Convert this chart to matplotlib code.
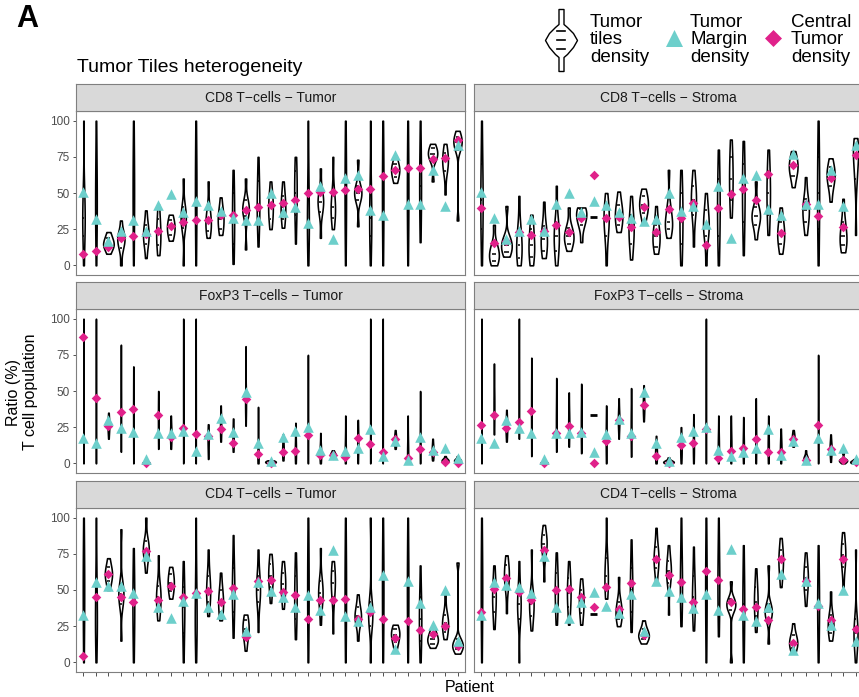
import numpy as np
import matplotlib
matplotlib.use("Agg")
import matplotlib.pyplot as plt
from matplotlib import cbook

plt.rcParams['font.family'] = ['Liberation Sans', 'DejaVu Sans']

"""Data read from the figure: per patient (min, q1, median, q3, max) of tile ratios,
plus the tumor-margin and central-tumor densities"""

patients = np.arange(1, 32)

cd8_tumor_violin = [(0, 20, 33, 50, 100), (0, 25, 45, 70, 100), (8, 12, 15, 19, 23), (0, 12, 18, 22, 31),
                    (0, 25, 50, 75, 100), (5, 15, 21, 28, 38), (7, 14, 22, 32, 42), (17, 21, 26, 31, 35),
                    (0, 26, 33, 40, 60), (0, 25, 50, 75, 100), (19, 24, 30, 38, 58), (21, 25, 32, 38, 47),
                    (1, 15, 33, 50, 66), (11, 34, 39, 45, 60), (13, 30, 42, 58, 75), (25, 32, 40, 48, 58),
                    (26, 32, 40, 48, 58), (15, 35, 50, 65, 75), (0, 20, 33, 60, 100), (19, 37, 44, 50, 67),
                    (25, 33, 40, 50, 75), (0, 25, 50, 75, 100), (27, 45, 50, 55, 73), (0, 20, 33, 55, 100),
                    (0, 25, 50, 75, 100), (57, 61, 66, 70, 76), (0, 25, 50, 75, 100), (16, 35, 55, 75, 100),
                    (58, 73, 77, 81, 84), (49, 65, 72, 78, 84), (31, 80, 85, 89, 93)]
cd8_tumor_margin = [50.5, 32, 17, 24, 31.5, 24, 42, 49.5, 37, 44.5, 41.5, 37.5, 33, 31, 31.5, 50,
                    37, 40.5, 29, 55, 18.5, 60.5, 62.5, 38.5, 35, 76.5, 42.5, 42.5, 66, 41, 83]
cd8_tumor_central = [8, 10, 13, 19, 20, 21.5, 23.5, 27.5, 30, 31, 31.5, 35, 34.5, 38.5, 40, 42,
                     43, 45, 50, 50.5, 51, 52, 52.5, 52.5, 62, 66, 67.5, 67.5, 73.5, 74.5, 86.5]

cd8_stroma_violin = [(0, 25, 45, 70, 100), (0, 3, 8, 14, 28), (6, 9, 14, 19, 41), (0, 5, 14, 25, 48),
                     (0, 6, 14, 25, 35), (5, 10, 18, 27, 44), (0, 10, 20, 30, 55), (10, 15, 20, 26, 40),
                     (16, 28, 34, 39, 40), (33.3, 33.3, 33.3, 33.3, 33.3), (0, 20, 32, 40, 50),
                     (23, 28, 35, 42, 51), (4, 15, 25, 35, 48), (30, 36, 42, 48, 53), (8, 13, 20, 28, 41),
                     (19, 25, 30, 40, 66), (0, 15, 33, 50, 66), (13, 35, 45, 55, 66), (0, 20, 28, 38, 50),
                     (0, 20, 40, 60, 80), (33, 45, 60, 75, 87), (7, 30, 50, 70, 86), (18, 28, 34, 40, 58),
                     (21, 35, 50, 65, 80), (8, 15, 22, 30, 40), (54, 62, 68, 74, 79), (21, 30, 38, 46, 61),
                     (0, 25, 50, 75, 100), (44, 55, 62, 68, 74), (9, 14, 20, 30, 46), (21, 60, 76, 82, 88)]
cd8_stroma_margin = [50.8, 32.6, 18, 23.8, 32.3, 23.8, 42.3, 49.7, 37, 44.6, 41.8, 37, 33, 30.7, 31.9, 50,
                     37.6, 40.9, 28.4, 55, 19, 60.3, 62.4, 38.6, 34.9, 77, 42.7, 42.3, 65.8, 41, 83]
cd8_stroma_central = [39.5, 15.5, 17, 23, 21, 23.8, 27.7, 23.3, 32.8, 62.4, 32.6, 33.5, 26.8, 40.4, 23.3, 38.6,
                      32.6, 43.4, 13.9, 39.5, 49, 52.7, 45, 63, 22, 69.3, 42.3, 34, 60.7, 26.6, 76.4]

foxp3_tumor_violin = [(0, 10, 33, 60, 100), (0, 10, 33, 60, 100), (17, 22, 26, 30, 35), (8, 25, 40, 55, 82),
                      (0, 20, 35, 50, 67), (0, 0, 0, 0, 0), (10, 20, 30, 40, 50), (10, 15, 20, 25, 33),
                      (0, 25, 50, 75, 100), (0, 10, 33, 60, 100), (3, 10, 17, 22, 27), (15, 20, 25, 32, 40),
                      (8, 12, 17, 24, 31), (26, 35, 42, 50, 81), (0, 2, 6, 15, 39), (0, 0.5, 1, 1.5, 2),
                      (2, 5, 9, 14, 20), (0, 4, 9, 17, 28), (0, 10, 25, 40, 75), (0, 3, 7, 12, 21),
                      (4, 5, 6, 7.5, 9), (0, 3, 8, 17, 33), (0, 8, 15, 22, 30), (0, 10, 33, 60, 100),
                      (0, 20, 45, 70, 100), (10, 13, 16, 19, 23), (0, 3, 8, 17, 33), (0, 8, 17, 30, 50),
                      (2, 5, 8, 12, 17), (0, 1, 2, 3, 5), (0, 1, 2, 3, 5)]
foxp3_tumor_margin = [17.3, 13.8, 30, 24.7, 21.4, 3, 21, 21, 22.6, 8.8, 20.3, 31, 21.4, 49.3, 13.8, 1.6,
                      18.4, 22.6, 24.9, 9.5, 5.5, 8.3, 10.4, 23.8, 5.3, 15.5, 2.3, 18, 9.2, 10.4, 3.5]
foxp3_tumor_central = [87.6, 45, 26, 35.7, 37.3, 0.5, 33.6, 18.4, 24.2, 20.3, 19, 23.5, 14.3, 44.7, 6.3, 0.5,
                       8, 8.5, 19.6, 6, 6, 4.1, 17.2, 13.4, 7.5, 17, 4, 9.8, 7.6, 0.7, 0.5]

foxp3_stroma_violin = [(0, 10, 33, 60, 100), (20, 30, 40, 50, 69), (15, 20, 25, 30, 37), (17, 30, 45, 65, 100),
                       (5, 20, 35, 50, 73), (0, 0, 0, 0, 0), (8, 18, 28, 40, 59), (11.5, 20, 27, 35, 49),
                       (7, 17, 27, 38, 55), (33.3, 33.3, 33.3, 33.3, 33.3), (0, 8, 17, 27, 40),
                       (17, 25, 30, 36, 45), (4.6, 15, 25, 35, 52), (29, 35, 40, 46, 54), (0, 3, 7, 12, 19),
                       (0, 0.5, 1, 2, 4), (0, 5, 10, 17, 25), (0, 6, 13, 22, 34), (0, 20, 40, 60, 100),
                       (0, 5, 12, 20, 33), (0, 5, 12, 20, 33), (0, 5, 12, 20, 32), (0, 8, 17, 28, 45),
                       (0, 5, 12, 20, 33), (0, 5, 10, 16, 24), (11.5, 14, 17, 20, 23), (0, 1.5, 3, 5, 9),
                       (0, 12, 25, 45, 75), (1, 6, 10, 14, 20), (0, 1, 2, 3, 7), (0, 0.5, 1, 2, 3)]
foxp3_stroma_margin = [17.3, 13.8, 30, 24.2, 21.2, 3, 21.2, 20.7, 21.9, 8, 20.3, 30.6, 21.2, 49, 13.8, 1.8,
                       18.4, 22.6, 24.9, 9.2, 5, 8, 10.4, 23.7, 5.8, 15.7, 2.3, 17.7, 9.2, 10.4, 3]
foxp3_stroma_central = [26.3, 33.4, 24.2, 28.8, 36.4, 0.5, 20.7, 25.8, 21, 0, 15.4, 30, 19, 40.3, 5.3, 0.5,
                        12.7, 14.3, 23.5, 3.5, 8.8, 10.4, 16.8, 7.6, 7.6, 16.8, 2, 26.5, 9.7, 2.3, 1]

cd4_tumor_violin = [(0, 25, 50, 75, 100), (0, 20, 33, 60, 100), (50, 56, 61, 66, 72), (15, 40, 47, 54, 92),
                    (0, 20, 40, 60, 79), (62, 72, 78, 84, 100), (29, 37, 45, 53, 74), (44, 49, 55, 61, 66),
                    (0, 20, 38, 52, 70), (0, 20, 33, 60, 100), (32, 42, 50, 60, 78), (29, 35, 42, 50, 62),
                    (17, 35, 50, 65, 88), (8, 17, 23, 29, 33), (21, 42, 50, 60, 78), (41, 52, 60, 68, 75),
                    (37, 46, 54, 62, 70), (16, 30, 45, 60, 76), (0, 25, 50, 75, 100), (26, 40, 48, 56, 79),
                    (20, 45, 55, 63, 70), (0, 25, 50, 75, 100), (15, 27, 32, 38, 47), (0, 25, 33, 42, 100),
                    (0, 25, 50, 75, 100), (9, 14, 19, 23, 26), (0, 25, 50, 75, 100), (0, 15, 30, 45, 67),
                    (10, 13, 16, 20, 24), (16, 21, 27, 33, 48), (6, 9, 12, 16, 69)]
cd4_tumor_margin = [32.4, 55.2, 53, 52.9, 47.8, 73.6, 38, 30.6, 42.5, 47.8, 38.2, 33.3, 47.1, 21.4, 55.4, 49,
                    45, 38, 46.7, 36.5, 77.7, 32.3, 28.3, 38.4, 60.5, 9, 55.9, 41, 25.5, 49.8, 14.5]
cd4_tumor_central = [4.1, 45.5, 61, 45.5, 42, 77, 42.8, 53, 45.5, 47.8, 49, 42, 51.3, 17.5, 56, 57,
                     48.5, 46.7, 30, 43.2, 43.2, 43.7, 29.9, 34.6, 30, 16.8, 28.3, 22.5, 19.5, 25.3, 11.5]

cd4_stroma_violin = [(0, 25, 50, 75, 100), (23, 35, 45, 55, 67), (34, 52, 60, 67, 74), (0, 30, 40, 50, 70),
                     (22, 32, 40, 48, 78), (56, 75, 82, 88, 95), (26, 38, 50, 62, 76), (26, 38, 48, 58, 70),
                     (26, 34, 42, 50, 58), (33.3, 33.3, 33.3, 33.3, 33.3), (44, 50, 60, 72, 100),
                     (25, 30, 35, 42, 59), (21, 35, 50, 65, 85), (13, 16, 19, 23, 29), (56, 65, 72, 80, 93),
                     (33, 55, 63, 70, 81), (25, 40, 55, 75, 100), (22, 35, 45, 60, 80), (0, 25, 50, 75, 100),
                     (18, 35, 55, 75, 100), (0, 36, 40, 44, 56), (0, 20, 40, 60, 81), (21, 32, 42, 52, 65),
                     (13, 30, 35, 40, 67), (52, 62, 70, 78, 86), (6, 10, 14, 19, 27), (39, 50, 58, 66, 76),
                     (0, 20, 40, 60, 81), (15, 20, 26, 33, 49), (51, 66, 74, 82, 90), (0, 12, 20, 30, 78)]
cd4_stroma_margin = [32.9, 55.4, 53.6, 52.4, 47.8, 73.6, 38.2, 30.6, 42, 48.5, 38.6, 34, 47.1, 21.4, 55.9, 49.4,
                     45, 37.5, 47.1, 36.3, 78.4, 32.4, 28.3, 38.2, 60.9, 8.7, 56.3, 41, 26, 49.7, 14.5]
cd4_stroma_central = [34.5, 50.8, 58.2, 48.5, 42.8, 77.5, 50, 50.8, 45.5, 37.9, 52.4, 37, 54.7, 18.6, 71.3, 60.5,
                      55.2, 42, 62.8, 56.8, 41.4, 36.8, 37.9, 29, 71.3, 13.3, 55.9, 38.6, 29, 71.3, 23]

panel_titles = ["CD8 T\u2212cells \u2212 Tumor", "CD8 T\u2212cells \u2212 Stroma",
                "FoxP3 T\u2212cells \u2212 Tumor", "FoxP3 T\u2212cells \u2212 Stroma",
                "CD4 T\u2212cells \u2212 Tumor", "CD4 T\u2212cells \u2212 Stroma"]

TEAL = '#6DCFCB'
MAGENTA = '#E0218A'
BORDER = '#7F7F7F'


def kde(X, coords):
    X = np.asarray(X, float)
    q1, q3 = np.percentile(X, [25, 75])
    h = max(0.45 * (q3 - q1), 0.8)
    z = (coords[:, None] - X[None, :]) / h
    return np.exp(-0.5 * z ** 2).sum(axis=1) / (len(X) * h * np.sqrt(2 * np.pi))


def draw_panel(ax, summary, margin, central):
    pos_v, samples, flat = [], [], []
    for p, (lo, q1, med, q3, hi) in zip(patients, summary):
        if hi - lo < 0.5:
            flat.append((p, med))
        else:
            pos_v.append(p)
            samples.append([lo, q1, q1, med, med, med, q3, q3, hi])
    stats = cbook.violin_stats(samples, kde, points=200)
    peaks = np.array([s['vals'].max() for s in stats])
    widths = 0.85 * peaks / peaks.max()
    parts = ax.violin(stats, positions=pos_v, widths=widths,
                      showmeans=False, showextrema=False, showmedians=False)
    for body in parts['bodies']:
        body.set_facecolor('white')
        body.set_edgecolor('black')
        body.set_linewidth(1.15)
        body.set_alpha(1)
        body.set_zorder(2)
    # quantile dashes inside the violins
    for p, s, w, smp in zip(pos_v, stats, widths, samples):
        for q in (smp[1], smp[4], smp[6]):
            half = 0.5 * w * np.interp(q, s['coords'], s['vals']) / s['vals'].max()
            ax.hlines(q, p - 0.5 * half, p + 0.5 * half, color='black', lw=1.1, zorder=2.5)
    for p, v in flat:
        ax.hlines(v, p - 0.3, p + 0.3, color='black', lw=2, zorder=2)
    ax.scatter(patients, central, marker='D', s=24, color=MAGENTA, linewidths=0, zorder=3)
    ax.scatter(patients, margin, marker='^', s=58, color=TEAL, linewidths=0, zorder=4)


fig = plt.figure(figsize=(8.59, 6.97), dpi=100)
W, H = 859.0, 697.0

col_left = [76, 474]
panel_w = 389
row_top = [111, 309, 508]
panel_h = 164
strip_h = 27

data = [(cd8_tumor_violin, cd8_tumor_margin, cd8_tumor_central),
        (cd8_stroma_violin, cd8_stroma_margin, cd8_stroma_central),
        (foxp3_tumor_violin, foxp3_tumor_margin, foxp3_tumor_central),
        (foxp3_stroma_violin, foxp3_stroma_margin, foxp3_stroma_central),
        (cd4_tumor_violin, cd4_tumor_margin, cd4_tumor_central),
        (cd4_stroma_violin, cd4_stroma_margin, cd4_stroma_central)]

for k, (summary, margin, central) in enumerate(data):
    r, c = divmod(k, 2)
    x0 = col_left[c]
    y0 = row_top[r]
    ax = fig.add_axes([x0 / W, 1 - (y0 + panel_h) / H, panel_w / W, panel_h / H])
    draw_panel(ax, summary, margin, central)
    ax.set_xlim(0.4, 31.6)
    ax.set_ylim(-6.7, 106.7)
    for sp in ax.spines.values():
        sp.set_color(BORDER)
        sp.set_linewidth(0.8)
    if c == 0:
        ax.set_yticks([0, 25, 50, 75, 100])
        ax.tick_params(axis='y', labelsize=8.5, labelcolor='#4D4D4D', color='#333333',
                       length=2.5, width=0.6, pad=2)
    else:
        ax.set_yticks([])
    if r == 2:
        ax.set_xticks(patients)
        ax.set_xticklabels([])
        ax.tick_params(axis='x', color='#333333', length=3, width=0.6)
    else:
        ax.set_xticks([])

    sax = fig.add_axes([x0 / W, 1 - y0 / H, panel_w / W, strip_h / H])
    sax.set_facecolor('#D9D9D9')
    sax.set_xticks([])
    sax.set_yticks([])
    for sp in sax.spines.values():
        sp.set_color(BORDER)
        sp.set_linewidth(0.8)
    sax.text(0.5, 0.5, panel_titles[k], ha='center', va='center', fontsize=10,
             color='#1A1A1A', transform=sax.transAxes)

# overlay layer in pixel coordinates for titles, labels and legend
ov = fig.add_axes([0, 0, 1, 1])
ov.set_xlim(0, W)
ov.set_ylim(H, 0)
ov.axis('off')
ov.patch.set_visible(False)

ov.text(16, 27, 'A', fontsize=22, fontweight='bold', va='baseline', ha='left')
ov.text(77, 72, 'Tumor Tiles heterogeneity', fontsize=14, va='baseline', ha='left')
ov.text(22, 392, 'Ratio (%)\nT cell population', rotation=90, ha='center', va='center',
        fontsize=11.5, multialignment='center')
ov.text(470, 687, 'Patient', ha='center', va='center', fontsize=11.5)

# legend: violin key
leg_y = [9, 24, 27, 33, 40, 47, 54, 57, 71]
leg_hw = [2.5, 2.5, 6, 12, 16, 12, 6, 2.5, 2.5]
cx = 561
ov.fill_betweenx(leg_y, [cx - h for h in leg_hw], [cx + h for h in leg_hw],
                 facecolor='white', edgecolor='black', lw=1)
for yq in (31, 40, 49):
    ov.plot([cx - 4, cx + 4], [yq, yq], color='black', lw=1.2)
ov.scatter([674], [38], marker='^', s=150, color=TEAL, linewidths=0)
ov.scatter([773], [38], marker='D', s=75, color=MAGENTA, linewidths=0)
for xt, txt in [(590, 'Tumor\ntiles\ndensity'), (690, 'Tumor\nMargin\ndensity'),
                (791, 'Central\nTumor\ndensity')]:
    ov.text(xt, 40, txt, ha='left', va='center', fontsize=13.5, linespacing=1.05)

fig.savefig('out.png', dpi=100)
